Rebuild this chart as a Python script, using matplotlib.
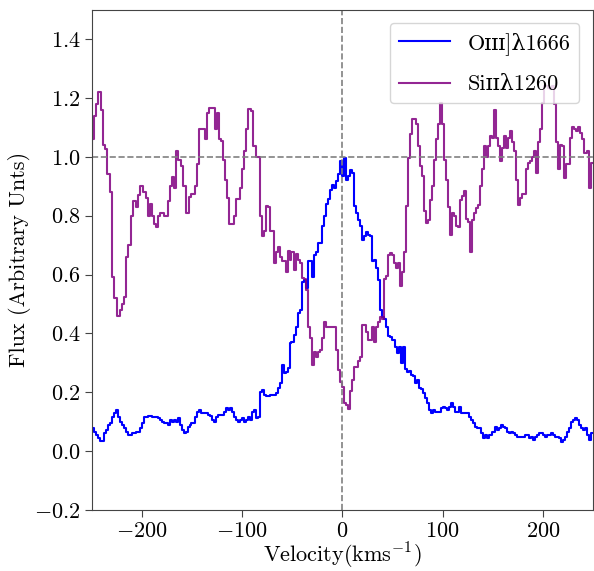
import matplotlib
matplotlib.use("Agg")
import matplotlib.pyplot as plt

# velocity bin starts (km/s) and normalised flux
o3_vel = [-252, -248.3, -246.3, -244.3, -242.3, -238.3, -236.3, -234.3, -232.3, -230.3,
          -228.3, -226.3, -224.3, -222.3, -220.3, -218.3, -216.3, -214.3, -212.3, -210.3,
          -208.3, -206.3, -204.3, -202.3, -200.3, -198.3, -196.3, -194.3, -190.3, -188.3,
          -186.3, -184.3, -182.3, -180.3, -178.3, -176.3, -174.3, -172.3, -170.3, -168.3,
          -166.3, -164.3, -162.3, -160.3, -158.3, -156.3, -154.3, -152.3,
          -151, -147.7, -145.7, -143.7, -141, -137.7, -134.3, -132.3, -130.3, -128.3,
          -126.3, -124.3, -122.3, -120.3, -118.3, -116.3, -114.3, -112.3, -110.3, -108.3,
          -106.3, -104.3, -102.3, -100.3, -98.3, -96.3, -94.3, -92.3, -90.3, -88.3,
          -86.3, -84.3, -82.3, -80.3, -78.3, -76.3, -74.3, -72.3, -70.3, -68.3,
          -66.3, -64.3, -62.3, -60.3, -58.3, -56.3, -54.3, -52.3,
          -51, -48.3, -46.3, -44.3, -42.3, -40.3, -38.3, -36.3, -34.3, -32.3,
          -30.3, -28.3, -26.3, -24.3, -22.3, -20.3, -18.3, -16.3, -14.3, -12.3,
          -10.3, -8.3, -6.3, -4.3, -2.3, -0.3, 1.7, 3.7, 5.7, 7.7,
          9.7, 11.7, 13.7, 15.7, 17.7, 19.7, 21.7, 23.7, 25.7, 27.7,
          29.7, 31.7, 33.7, 35.7, 37.7, 39.7, 41.7, 43.7, 45.7, 47.7,
          49, 52.3, 54.3, 56.3, 58.3, 60.3, 62.3, 64.3, 66.3, 68.3,
          70.3, 72.3, 74.3, 76.3, 78.3, 80.3, 82.3, 84.3, 86.3, 88.3,
          90.3, 92.3, 94.3, 96.3, 98.3, 100.3, 102.3, 104.3, 106.3, 108.3,
          110.3, 112.3, 114.3, 116.3, 118.3, 120.3, 122.3, 124.3, 126.3, 128.3,
          130.3, 132.3, 134.3, 136.3, 138.3, 140.3, 142.3, 144.3, 146.3,
          149, 152.3, 154.3, 156.3, 158.3, 160.3, 162.3, 164.3, 166.3, 168.3,
          170.3, 172.3, 174.3, 176.3, 178.3, 180.3, 182.3, 184.3, 186.3, 188.3,
          190.3, 192.3, 194.3, 196.3, 198.3, 200.3, 202.3, 204.3, 206.3, 208.3,
          210.3, 212.3, 214.3, 216.3, 218.3, 220.3, 222.3, 224.3, 226.3, 228.3,
          230.3, 232.3, 234.3, 236.3, 238.3, 240.3, 242.3, 244.3, 246.3, 248.3, 252]
o3_flux = [0.077, 0.066, 0.054, 0.043, 0.035, 0.060, 0.070, 0.088, 0.094, 0.117,
           0.128, 0.139, 0.117, 0.100, 0.088, 0.077, 0.066, 0.054, 0.054, 0.060,
           0.060, 0.066, 0.066, 0.077, 0.094, 0.117, 0.117, 0.120, 0.117, 0.117,
           0.115, 0.111, 0.105, 0.100, 0.094, 0.094, 0.088, 0.105, 0.100, 0.105,
           0.100, 0.111, 0.088, 0.071, 0.060, 0.066, 0.083, 0.088,
           0.094, 0.117, 0.134, 0.139, 0.130, 0.128, 0.121, 0.119, 0.105, 0.100,
           0.117, 0.123, 0.123, 0.123, 0.134, 0.145, 0.139, 0.145, 0.134, 0.117,
           0.105, 0.100, 0.105, 0.111, 0.100, 0.105, 0.117, 0.105, 0.133, 0.139,
           0.111, 0.117, 0.202, 0.207, 0.190, 0.187, 0.187, 0.190, 0.190, 0.190,
           0.196, 0.213, 0.230, 0.293, 0.265, 0.270, 0.282, 0.367,
           0.370, 0.395, 0.420, 0.469, 0.480, 0.576, 0.580, 0.553, 0.645, 0.645,
           0.590, 0.667, 0.678, 0.707, 0.707, 0.764, 0.800, 0.840, 0.857, 0.888,
           0.905, 0.895, 0.917, 0.940, 0.985, 0.934, 0.996, 0.922, 0.934, 0.956,
           0.945, 0.832, 0.810, 0.786, 0.764, 0.718, 0.730, 0.743, 0.735, 0.730,
           0.645, 0.650, 0.622, 0.580, 0.480, 0.454, 0.450, 0.420, 0.392, 0.388,
           0.378, 0.355, 0.333, 0.355, 0.300, 0.355, 0.280, 0.270, 0.273, 0.258,
           0.255, 0.230, 0.240, 0.213, 0.210, 0.196, 0.179, 0.162, 0.139, 0.128,
           0.139, 0.134, 0.134, 0.134, 0.145, 0.151, 0.145, 0.139, 0.151, 0.162,
           0.151, 0.134, 0.134, 0.151, 0.128, 0.128, 0.128, 0.128, 0.117, 0.105,
           0.094, 0.083, 0.077, 0.077, 0.060, 0.043, 0.054, 0.043, 0.054,
           0.066, 0.083, 0.071, 0.077, 0.088, 0.083, 0.077, 0.066, 0.060, 0.066,
           0.060, 0.054, 0.049, 0.049, 0.049, 0.049, 0.054, 0.054, 0.043, 0.049,
           0.037, 0.049, 0.054, 0.060, 0.060, 0.054, 0.049, 0.054, 0.054, 0.060,
           0.054, 0.049, 0.049, 0.043, 0.032, 0.037, 0.049, 0.066, 0.077, 0.100,
           0.105, 0.111, 0.105, 0.088, 0.077, 0.071, 0.077, 0.054, 0.037, 0.060, 0.060]

si2_vel = [-252, -250, -248.3, -246.3, -243.7, -241, -239, -237, -235, -232.3,
           -229.7, -227.7, -225, -222.3, -220.3, -218.3, -215.7, -213.7, -211, -209,
           -206.3, -204.3, -202.3, -199, -196.3, -194.3, -192.3, -190.3, -188.3, -186.3,
           -184.3, -182.3, -178.3, -174.3, -172.3, -169.7, -167.7, -165.7, -163.7, -161.7,
           -159, -156.3, -153.7,
           -151.7, -147.7, -145, -143, -141, -137, -135, -133, -127.7, -125.7,
           -123.7, -121.7, -119.7, -117.7, -115.7, -113, -108.3, -106.3, -102.3, -100.3,
           -98.3, -96.3, -94.3, -91, -89, -86.3, -82.3, -80.3, -78.3, -76.3,
           -74.3, -72.3, -68.3, -66.3, -64.3, -62.3, -60.3, -56.3, -54.3, -52.3,
           -51, -48.3, -46.3, -44.3, -42.3, -40.3, -38.3, -36.3, -34.3, -32.3,
           -30.3, -28.3, -26.3, -24.3, -22.3, -20.3, -18.3, -16.3, -14.3, -12.3,
           -10.3, -8.3, -6.3, -4.3, -2.3, -0.3, 1.7, 3.7, 5.7, 7.7,
           9.7, 11.7, 13.7, 15.7, 17.7, 19.7, 21.7, 23.7, 25.7, 27.7,
           29.7, 31.7, 33.7, 35.7, 37.7, 39.7, 41.7, 43.7, 45.7, 47.7,
           49, 51.7, 53.7, 55.7, 57.7, 59.7, 61.7, 63.7, 65.7, 67.7,
           69.7, 71.7, 73.7, 75.7, 77.7, 79.7, 81.7, 83.7, 85.7, 87.7,
           89.7, 91.7, 93.7, 95.7, 97.7, 99.7, 101.7, 103.7, 105.7, 107.7,
           109.7, 111.7, 113.7, 115.7, 117.7, 119.7, 121.7, 123.7, 125.7, 127.7,
           129.7, 131.7, 133.7, 135.7, 137.7, 139.7, 141.7, 143.7, 145.7, 147.7,
           149, 151.7, 153.7, 155.7, 157.7, 159.7, 161.7, 163.7, 165.7, 167.7,
           169.7, 171.7, 173.7, 175.7, 177.7, 179.7, 181.7, 183.7, 185.7, 187.7,
           189.7, 191.7, 193.7, 195.7, 197.7, 199.7, 201.7, 203.7, 205.7, 207.7,
           209.7, 211.7, 213.7, 215.7, 217.7, 219.7, 221.7, 223.7, 225.7, 227.7,
           229.7, 231.7, 233.7, 235.7, 237.7, 239.7, 241.7, 243.7, 245.7, 247.7, 252]
si2_flux = [1.00, 1.06, 1.14, 1.18, 1.22, 1.16, 1.04, 1.025, 0.94, 0.88,
            0.59, 0.52, 0.46, 0.48, 0.50, 0.525, 0.66, 0.70, 0.80, 0.85,
            0.83, 0.87, 0.90, 0.88, 0.86, 0.80, 0.84, 0.80, 0.77, 0.76,
            0.80, 0.81, 0.80, 0.85, 0.90, 0.93, 0.895, 1.02, 0.99, 0.97,
            0.90, 0.81, 0.865,
            0.875, 0.90, 0.974, 1.093, 1.095, 1.06, 1.15, 1.167, 1.093, 1.15,
            1.06, 1.055, 0.99, 0.92, 0.86, 0.77, 0.80, 0.855, 0.895, 0.957,
            1.02, 1.093, 1.163, 1.155, 1.036, 1.00, 0.80, 0.73, 0.747, 0.834,
            0.83, 0.747, 0.64, 0.675, 0.695, 0.66, 0.645, 0.61, 0.68, 0.65,
            0.678, 0.616, 0.67, 0.65, 0.64, 0.588, 0.585, 0.548, 0.423, 0.384,
            0.293, 0.338, 0.32, 0.338, 0.345, 0.384, 0.437, 0.42, 0.42, 0.42,
            0.42, 0.42, 0.345, 0.276, 0.236, 0.219, 0.162, 0.157, 0.142, 0.203,
            0.24, 0.287, 0.287, 0.305, 0.32, 0.429, 0.429, 0.405, 0.377, 0.377,
            0.42, 0.37, 0.42, 0.437, 0.454, 0.45, 0.585, 0.596, 0.667, 0.672,
            0.667, 0.64, 0.622, 0.64, 0.56, 0.61, 0.678, 0.832, 0.996, 1.076,
            1.127, 1.13, 1.11, 1.036, 0.968, 0.934, 0.815, 0.775, 0.786, 0.854,
            0.90, 0.99, 1.06, 1.11, 1.184, 1.11, 0.99, 0.922, 0.83, 0.735,
            0.81, 0.80, 0.764, 0.76, 0.854, 0.866, 0.884, 0.79, 0.78, 0.678,
            0.785, 0.81, 0.826, 0.837, 0.90, 0.957, 1.036, 1.00, 1.036, 1.07,
            1.064, 1.16, 1.064, 1.036, 0.985, 1.03, 1.07, 1.03, 1.064, 1.087,
            1.05, 1.02, 0.92, 0.837, 0.86, 0.872, 0.872, 0.96, 0.98, 0.985,
            1.00, 1.02, 0.945, 1.05, 1.093, 1.184, 1.24, 1.24, 1.235, 1.23,
            1.24, 1.18, 1.05, 0.96, 1.04, 1.036, 0.928, 0.974, 0.974, 1.064,
            1.10, 1.095, 1.087, 1.10, 1.08, 1.06, 1.012, 1.02, 0.894, 0.98, 0.98]

plt.rcParams["font.family"] = "serif"
plt.rcParams["font.serif"] = ["cmr10"]
plt.rcParams["mathtext.fontset"] = "cm"
plt.rcParams["axes.formatter.use_mathtext"] = True
plt.rcParams["font.size"] = 16

fig = plt.figure(figsize=(5.94, 5.71), dpi=100)
ax = fig.add_axes([0.155, 0.107, 0.843, 0.876])

ax.step(o3_vel, o3_flux, where="post", color="blue", lw=1.5,
        label="O\u026a\u026a\u026a]\u03bb1666")
ax.step(si2_vel, si2_flux, where="post", color="purple", lw=1.5, alpha=0.85,
        label="Si\u026a\u026a\u03bb1260")
ax.axhline(1.0, color="gray", ls="--", lw=1.2)
ax.axvline(0.0, color="gray", ls="--", lw=1.2)

ax.set_xlim(-250, 250)
ax.set_ylim(-0.2, 1.5)
ax.set_xticks([-200, -100, 0, 100, 200])
ax.set_yticks([-0.2, 0.0, 0.2, 0.4, 0.6, 0.8, 1.0, 1.2, 1.4])
ax.set_xlabel(r"Velocity(kms$^{-1}$)", labelpad=0)
ax.set_ylabel("Flux (Arbitrary Unts)", labelpad=2)
for s in ax.spines.values():
    s.set_color("#444444")
ax.tick_params(colors="#444444", labelcolor="black", length=5)

ax.legend(loc="upper right", prop={"family": ["cmr10", "DejaVu Serif"], "size": 16},
          handlelength=2.3, labelspacing=0.9, borderaxespad=0.6)

fig.savefig("out.png", dpi=100)
